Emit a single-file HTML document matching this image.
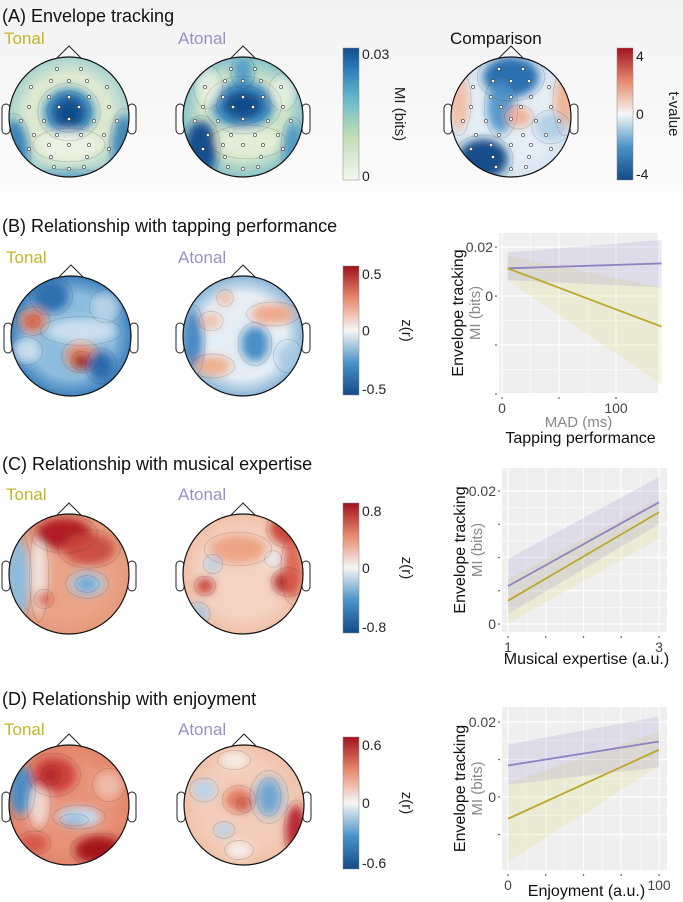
<!DOCTYPE html>
<html><head><meta charset="utf-8">
<style>
body{margin:0;background:#fff;}
svg{display:block;font-family:"Liberation Sans",sans-serif;}
</style></head>
<body>
<svg id="fig" width="683" height="902" viewBox="0 0 683 902" xmlns="http://www.w3.org/2000/svg">
<defs>
<linearGradient id="bgA" x1="0" y1="0" x2="0" y2="1"><stop offset="0" stop-color="#f3f3f3"/><stop offset="1" stop-color="#fbfbfb"/></linearGradient>
<linearGradient id="cmMI" x1="0" y1="1" x2="0" y2="0"><stop offset="0" stop-color="#f4f7ee"/><stop offset="0.35" stop-color="#bcdcb4"/><stop offset="0.6" stop-color="#6cbccc"/><stop offset="0.85" stop-color="#2a7cb6"/><stop offset="1" stop-color="#134d8c"/></linearGradient>
<linearGradient id="cmRB" x1="0" y1="1" x2="0" y2="0"><stop offset="0" stop-color="#134a86"/><stop offset="0.25" stop-color="#4b93c6"/><stop offset="0.5" stop-color="#f6f6f6"/><stop offset="0.75" stop-color="#e68a6d"/><stop offset="1" stop-color="#a0121f"/></linearGradient>
<filter id="blur" x="-50%" y="-50%" width="200%" height="200%"><feGaussianBlur stdDeviation="4.5"/></filter>
</defs>
<rect x="0" y="0" width="683" height="192" fill="url(#bgA)"/>
<g id="heads"></g>
<g id="static">
<text x="2" y="22" font-size="18" fill="#111">(A) Envelope tracking</text>
<text x="4" y="44" font-size="17" fill="#c5b52a">Tonal</text>
<text x="178" y="44" font-size="17" fill="#9a90c6">Atonal</text>
<text x="450" y="44" font-size="17" fill="#111">Comparison</text>
<text x="2" y="232" font-size="18" fill="#111">(B) Relationship with tapping performance</text>
<text x="6" y="263" font-size="17" fill="#c5b52a">Tonal</text>
<text x="178" y="263" font-size="17" fill="#9a90c6">Atonal</text>
<text x="2" y="470" font-size="18" fill="#111">(C)  Relationship with musical expertise</text>
<text x="6" y="500" font-size="17" fill="#c5b52a">Tonal</text>
<text x="178" y="500" font-size="17" fill="#9a90c6">Atonal</text>
<text x="2" y="705" font-size="18" fill="#111">(D)  Relationship with enjoyment</text>
<text x="4" y="735" font-size="17" fill="#c5b52a">Tonal</text>
<text x="178" y="735" font-size="17" fill="#9a90c6">Atonal</text>
</g>
<g id="cbars"></g>
<g id="charts"></g>
</svg>
<script>
var NS="http://www.w3.org/2000/svg";
function mk(tag,attrs,parent){var e=document.createElementNS(NS,tag);for(var k in attrs)e.setAttribute(k,attrs[k]);parent.appendChild(e);return e;}
var heads=document.getElementById('heads');
var headSpecs=[
 {name:'head-a-tonal',cx:69,cy:117,base:'#dde9d0',edge:'#a9d2cf',elec:true,blobs:[[0,-5,26,24,'#3f93c6',1],[0,-5,18,17,'#1a5a99',1],[0,-3,10,10,'#0f4a88',1],[0,28,30,14,'#eef3e4',0.9],[-55,35,14,32,'#2f7ab5',0.9],[55,30,12,32,'#2f7ab5',0.85],[0,62,40,8,'#4f9dc4',0.8]]},
 {name:'head-a-atonal',cx:243,cy:117,base:'#cfe5c8',edge:'#8cc4cc',elec:true,blobs:[[0,-12,32,24,'#3f93c6',1],[0,-12,22,16,'#1a5a99',1],[0,-12,12,9,'#0f4a88',1],[0,-45,10,14,'#3b8ec4',0.8],[-42,32,16,28,'#124f8e',1],[5,25,32,14,'#e6efd9',0.9],[-35,-30,12,18,'#eef3e4',0.8],[40,-25,12,16,'#eef3e4',0.8],[50,30,10,25,'#3f8fc0',0.8]]},
 {name:'head-a-comparison',cx:511,cy:117,base:'#e4eef6',edge:'#d7e5f1',elec:true,blobs:[[0,-40,28,20,'#2a6fb0',1],[-10,-10,14,26,'#4a90c5',0.9],[8,0,12,10,'#f0b49a',1],[-28,42,25,20,'#164d8a',1],[-52,-15,10,28,'#f2c0a8',1],[54,-15,10,28,'#f0b498',1],[40,10,16,14,'#a8c8e2',0.8]]},
 {name:'head-b-tonal',cx:71,cy:336,base:'#8cbcde',edge:'#3f82bd',blobs:[[-38,-15,14,12,'#e3866a',1],[-38,-15,6,5,'#c4443b',1],[10,20,16,14,'#e59172',1],[10,25,8,8,'#a51522',1],[-20,-40,18,16,'#2f6fae',1],[30,30,13,15,'#2a6aab',1],[10,-5,34,12,'#dde9f3',0.8],[-45,15,14,12,'#dde9f3',0.8],[35,-30,14,14,'#c2d9ec',0.8]]},
 {name:'head-b-atonal',cx:243,cy:336,base:'#e6eef5',edge:'#8ab6d8',blobs:[[-50,5,10,30,'#3f82bd',0.9],[-32,-15,10,8,'#f2c2aa',1],[-18,-38,7,7,'#eeb9a0',1],[30,-22,22,10,'#eea98c',1],[-30,30,18,10,'#eeb092',1],[12,8,14,18,'#4b8fc6',1],[45,20,12,14,'#a7c9e3',0.8]]},
 {name:'head-c-tonal',cx:69,cy:574,base:'#eaa488',edge:'#e59a7c',blobs:[[-52,5,12,42,'#8fbcdd',1],[-30,0,8,40,'#f2f2f2',0.8],[-5,-40,28,16,'#b11c26',1],[20,-25,26,16,'#c8473d',0.9],[18,10,18,12,'#aacbe4',1],[18,10,10,7,'#6aa5d0',1],[-25,25,8,8,'#dc7059',1]]},
 {name:'head-c-atonal',cx:243,cy:574,base:'#f4d3c2',edge:'#f0c0a8',blobs:[[45,-45,18,16,'#c8463c',1],[45,8,14,12,'#a91a24',1],[50,-5,10,30,'#d9604f',0.9],[-38,12,9,8,'#c9463c',1],[-30,-10,8,8,'#b9d4ea',1],[-45,40,10,10,'#a7c9e3',1],[-5,-25,28,14,'#eca07f',0.9],[30,-15,7,7,'#e2edf6',1]]},
 {name:'head-d-tonal',cx:69,cy:805,base:'#e8937a',edge:'#e2866b',blobs:[[-48,-15,12,25,'#4b8cc4',1],[-30,0,10,22,'#f2f2f2',0.7],[-15,-30,22,18,'#cc3f3a',1],[-18,-30,8,8,'#b0202a',1],[10,12,22,10,'#c6dcee',1],[5,15,12,5,'#8ab8dc',1],[30,45,24,14,'#a4141f',1],[-35,38,14,10,'#cf4a40',0.8],[40,-20,14,14,'#f3d6c7',0.6]]},
 {name:'head-d-atonal',cx:244,cy:805,base:'#f3cdb9',edge:'#f0c2aa',blobs:[[25,-8,10,16,'#2a6fb0',1],[25,-8,16,22,'#8fbbde',0.7],[-40,-15,12,10,'#b7d3ea',1],[-20,25,9,7,'#b7d3ea',1],[-5,-5,14,12,'#e07c63',1],[0,0,6,6,'#c9473c',1],[52,25,10,25,'#b72632',1],[-5,45,12,8,'#f4f1ef',1],[-10,-45,14,8,'#f4eeea',1]]}
];
var elecPts=[[-12,-48],[12,-48],[-18,-36],[0,-36],[18,-36],[-38,-30],[38,-30],[-20,-20],[0,-20],[20,-20],[-40,-10],[40,-10],[-10,-10],[10,-10],[-48,4],[-25,4],[0,2],[25,4],[48,4],[-35,18],[-12,18],[12,18],[35,18],[-20,28],[0,28],[20,28],[-40,32],[40,32],[-18,40],[18,40],[-15,50],[0,52],[15,50]];
headSpecs.forEach(function(h,i){
  var g=mk('g',{},heads);
  
  
  var r=60;
  var cid='clip'+i;
  var cp=mk('clipPath',{id:cid},g);mk('circle',{cx:h.cx,cy:h.cy,r:r},cp);
  var gid='rg'+i;
  var rg=mk('radialGradient',{id:gid},g);
  mk('stop',{offset:'0.7','stop-color':h.base},rg);mk('stop',{offset:'1','stop-color':h.edge},rg);
  var nose=mk('path',{d:'M'+(h.cx-13)+' '+(h.cy-r+2)+' L'+h.cx+' '+(h.cy-r-11)+' L'+(h.cx+13)+' '+(h.cy-r+2),fill:'none',stroke:'#222','stroke-width':1},g);
  
  var earL=mk('rect',{x:h.cx-r-7,y:h.cy-13,width:8,height:30,rx:4,fill:'#fff',stroke:'#222','stroke-width':1},g);
  
  var earR=mk('rect',{x:h.cx+r-1,y:h.cy-13,width:8,height:30,rx:4,fill:'#fff',stroke:'#222','stroke-width':1},g);
  
  var inner=mk('g',{'clip-path':'url(#'+cid+')'},g);
  mk('circle',{cx:h.cx,cy:h.cy,r:r,fill:'url(#'+gid+')'},inner);
  var bg=mk('g',{filter:'url(#blur)'},inner);
  h.blobs.forEach(function(b){mk('ellipse',{cx:h.cx+b[0],cy:h.cy+b[1],rx:b[2],ry:b[3],fill:b[4],opacity:b[5]},bg);});
  var lg=mk('g',{fill:'none',stroke:'#333','stroke-opacity':0.22,'stroke-width':0.7},inner);
  h.blobs.forEach(function(b){mk('ellipse',{cx:h.cx+b[0],cy:h.cy+b[1],rx:b[2]*1.2,ry:b[3]*1.2},lg);});
  var outline=mk('circle',{cx:h.cx,cy:h.cy,r:r,fill:'none',stroke:'#111','stroke-width':1.2},g);
  
  if(h.elec){elecPts.forEach(function(p){var c=mk('circle',{cx:h.cx+p[0],cy:h.cy+p[1],r:1.6,fill:'#fff',stroke:'#333','stroke-width':0.6},g);});}
});
var cbars=document.getElementById('cbars');
var cbSpecs=[
 {name:'mi-colorbar',x:343,y:48,h:132,grad:'cmMI',ticks:['0.03','0'],title:'MI (bits)'},
 {name:'t-value-colorbar',x:617,y:48,h:132,grad:'cmRB',ticks:['4','0','-4'],title:'t-value'},
 {name:'colorbar-b',x:343,y:266,h:129,grad:'cmRB',ticks:['0.5','0','-0.5'],title:'z(r)'},
 {name:'colorbar-c',x:343,y:503,h:130,grad:'cmRB',ticks:['0.8','0','-0.8'],title:'z(r)'},
 {name:'colorbar-d',x:343,y:737,h:132,grad:'cmRB',ticks:['0.6','0','-0.6'],title:'z(r)'}
];
cbSpecs.forEach(function(c){
  var g=mk('g',{},cbars);
  
  
  mk('rect',{x:c.x,y:c.y,width:16,height:c.h,fill:'url(#'+c.grad+')',stroke:'#888','stroke-width':0.5},g);
  var n=c.ticks.length;
  c.ticks.forEach(function(t,i){
    var yy=c.y+(n==2?(i==0?6:c.h-4):[8,c.h/2,c.h-6][i]);
    var tx=mk('text',{x:c.x+19,y:yy+5,'font-size':14,fill:'#222'},g);tx.textContent=t;
    
  });
  var tt=mk('text',{x:0,y:0,'font-size':15,fill:'#222','text-anchor':'middle',transform:'translate('+(c.x+(c.title=='z(r)'?59:52))+','+(c.y+c.h/2)+') rotate(90)'},g);
  tt.textContent=c.title;
  
});

var bX=[5,140];
var bAtonal=[0.0113,0.0133];
var bAtonalLo=[0.0065,0.0035];
var bAtonalHi=[0.0178,0.0229];
var bTonal=[0.0113,-0.0125];
var bTonalLo=[0.0065,-0.0363];
var bTonalHi=[0.0165,0.0035];
var bYTicks=[0.02,0,-0.02,-0.04];
var bYLabels=['0.02','0','',''];
var bXTicks=[0,50,100];
var bXLabels=['0','','100'];

var cX=[1,3];
var cAtonal=[0.0057,0.0183];
var cAtonalLo=[0.0015,0.0150];
var cAtonalHi=[0.0098,0.0221];
var cTonal=[0.0035,0.0168];
var cTonalLo=[0.0001,0.0128];
var cTonalHi=[0.0068,0.0188];
var cYTicks=[0.02,0.015,0.01,0.005,0];
var cYLabels=['0.02','','','','0'];
var cXTicks=[1,1.5,2,2.5,3];
var cXLabels=['1','','','','3'];

var dX=[0,100];
var dAtonal=[0.0084,0.0148];
var dAtonalLo=[0.0033,0.0079];
var dAtonalHi=[0.0140,0.0215];
var dTonal=[-0.0058,0.0126];
var dTonalLo=[-0.0172,0.0082];
var dTonalHi=[0.0037,0.0175];
var dYTicks=[0.02,0.01,0,-0.01];
var dYLabels=['0.02','','0',''];
var dXTicks=[0,25,50,75,100];
var dXLabels=['0','','','','100'];

var charts=document.getElementById('charts');
function chart(o){
  var g=mk('g',{},charts);
  
  
  function sx(v){return o.px0+(v-o.xd0)/(o.xd1-o.xd0)*(o.px1-o.px0);}
  function sy(v){return o.py0+(v-o.yd0)/(o.yd1-o.yd0)*(o.py1-o.py0);}
  var bg=mk('rect',{x:o.L,y:o.T,width:o.R-o.L,height:o.B-o.T,fill:'#efefef'},g);
  
  var grid=mk('g',{stroke:'#fff','stroke-width':1},g);
  o.yt.forEach(function(v,i){mk('line',{x1:o.L,x2:o.R,y1:sy(v),y2:sy(v),'stroke-width':1.2},grid);
    if(i<o.yt.length-1){var m=sy((v+o.yt[i+1])/2);mk('line',{x1:o.L,x2:o.R,y1:m,y2:m,'stroke-width':0.5},grid);}});
  o.xt.forEach(function(v,i){mk('line',{y1:o.T,y2:o.B,x1:sx(v),x2:sx(v),'stroke-width':1.2},grid);
    if(i<o.xt.length-1){var m=sx((v+o.xt[i+1])/2);mk('line',{y1:o.T,y2:o.B,x1:m,x2:m,'stroke-width':0.5},grid);}});
  function band(xs,lo,hi,col,nm){
    var d='M'+sx(xs[0])+' '+sy(lo[0])+' L'+sx(xs[1])+' '+sy(lo[1])+' L'+sx(xs[1])+' '+sy(hi[1])+' L'+sx(xs[0])+' '+sy(hi[0])+' Z';
    var p=mk('path',{d:d,fill:col},g);}
  band(o.x,o.tlo,o.thi,'rgba(225,220,130,0.25)','tonal-ci-band');
  band(o.x,o.alo,o.ahi,'rgba(160,150,210,0.22)','atonal-ci-band');
  var la=mk('line',{x1:sx(o.x[0]),y1:sy(o.a[0]),x2:sx(o.x[1]),y2:sy(o.a[1]),stroke:'#8d83c0','stroke-width':1.8},g);
  
  var lt=mk('line',{x1:sx(o.x[0]),y1:sy(o.t[0]),x2:sx(o.x[1]),y2:sy(o.t[1]),stroke:'#b9a82c','stroke-width':1.8},g);
  
  o.yt.forEach(function(v,i){
    var tk=mk('circle',{cx:o.L-3,cy:sy(v),r:0.8,fill:'#333'},g);
    var tx=mk('text',{x:o.L-6,y:sy(v)+5,'font-size':14,fill:'#444','text-anchor':'end'},g);tx.textContent=o.yl[i];
    });
  o.xt.forEach(function(v,i){
    var tk=mk('circle',{cx:sx(v),cy:o.B+5,r:0.8,fill:'#333'},g);
    var tx=mk('text',{x:sx(v),y:o.B+20,'font-size':14,fill:'#444','text-anchor':'middle'},g);tx.textContent=o.xl[i];
    });
  var cy=(o.T+o.B)/2;
  var t1=mk('text',{'font-size':16,fill:'#111','text-anchor':'middle',transform:'translate('+o.ty1+','+cy+') rotate(-90)'},g);t1.textContent='Envelope tracking';
  
  var t2=mk('text',{'font-size':15,fill:'#888','text-anchor':'middle',transform:'translate('+(o.ty1+17)+','+cy+') rotate(-90)'},g);t2.textContent='MI (bits)';
  
  if(o.xsub){var s=mk('text',{x:(o.L+o.R)/2,y:o.xsubY,'font-size':15,fill:'#888','text-anchor':'middle'},g);s.textContent=o.xsub;}
  var xt=mk('text',{x:(o.L+o.R)/2+2,y:o.xtitY,'font-size':16,fill:'#111','text-anchor':'middle'},g);xt.textContent=o.xtitle;
  
}
chart({name:'chart-b-tapping',L:499,R:658,T:233,B:393,px0:502,px1:616,xd0:0,xd1:100,py0:296,py1:247,yd0:0,yd1:0.02,
  x:bX,a:bAtonal,alo:bAtonalLo,ahi:bAtonalHi,t:bTonal,tlo:bTonalLo,thi:bTonalHi,yt:bYTicks,yl:bYLabels,xt:bXTicks,xl:bXLabels,
  ty1:463,xsub:'MAD (ms)',xsubY:427,xtitle:'Tapping performance',xtitY:443});
chart({name:'chart-c-expertise',L:502,R:667,T:468,B:632,px0:508,px1:659,xd0:1,xd1:3,py0:624,py1:491,yd0:0,yd1:0.02,
  x:cX,a:cAtonal,alo:cAtonalLo,ahi:cAtonalHi,t:cTonal,tlo:cTonalLo,thi:cTonalHi,yt:cYTicks,yl:cYLabels,xt:cXTicks,xl:cXLabels,
  ty1:465,xtitle:'Musical expertise (a.u.)',xtitY:664});
chart({name:'chart-d-enjoyment',L:502,R:667,T:707,B:870,px0:508,px1:659,xd0:0,xd1:100,py0:797,py1:722,yd0:0,yd1:0.02,
  x:dX,a:dAtonal,alo:dAtonalLo,ahi:dAtonalHi,t:dTonal,tlo:dTonalLo,thi:dTonalHi,yt:dYTicks,yl:dYLabels,xt:dXTicks,xl:dXLabels,
  ty1:465,xtitle:'Enjoyment (a.u.)',xtitY:896});
</script>
</body></html>
